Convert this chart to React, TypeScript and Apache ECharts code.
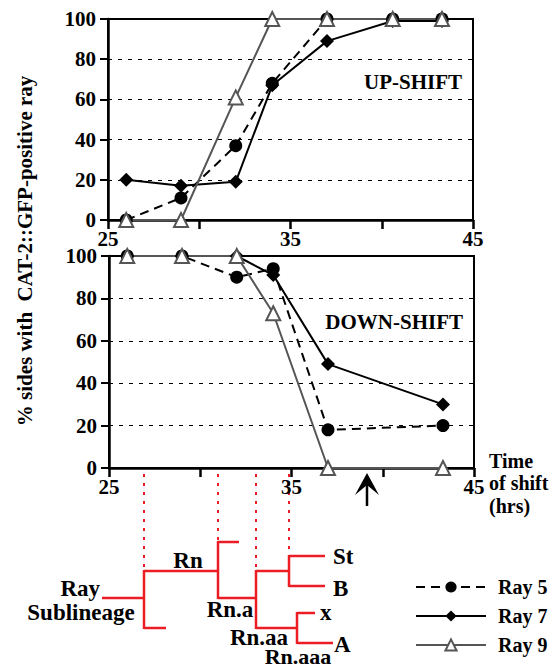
import React, { useEffect, useRef } from "react";
import * as echarts from "echarts";

// ---- data ----
const upTimes = [26, 29, 32, 34, 37, 40.6, 43.3];
const ray5Up = [0, 11, 37, 68, 100, 100, 100];
const ray7Up = [20, 17, 19, 67, 89, 99, 99];
const ray9Up = [0, 0, 61, 100, 100, 100, 100];

const downTimes = [26, 29, 32, 34, 37, 43.3];
const ray5Down = [100, 100, 90, 94, 18, 20];
const ray7Down = [100, 100, 100, 91, 49, 30];
const ray9Down = [100, 100, 100, 73, 0, 0];

const seriesNames = ["Ray 5", "Ray 7", "Ray 9"];
const xTickLabels = [25, 35, 45];
const yTicks = [0, 20, 40, 60, 80, 100];

const FONT = "Liberation Serif";
const RED = "#ec1c24";
const GRAY = "#555555";

const pairs = (xs: number[], ys: number[]) => xs.map((x, i) => [x, ys[i]]);

export default function App() {
  const ref = useRef<HTMLDivElement>(null);
  useEffect(() => {
    if (!ref.current) return;
    const chart = echarts.init(ref.current, null, { renderer: "svg" });

    const xAxisBase = (gridIndex: number) => ({
      type: "value",
      gridIndex,
      min: 25,
      max: 45,
      interval: 5,
      axisLine: { show: true, lineStyle: { color: "#000", width: 2.5 } },
      axisTick: { show: true, length: 9, lineStyle: { color: "#000", width: 2.5 } },
      splitLine: { show: false },
      axisLabel: {
        color: "#000",
        fontFamily: FONT,
        fontWeight: "bold",
        fontSize: 21,
        margin: 8,
        formatter: (v: number) => (xTickLabels.includes(v) ? String(v) : ""),
      },
    });
    const yAxisBase = (gridIndex: number) => ({
      type: "value",
      gridIndex,
      min: 0,
      max: 100,
      interval: 20,
      axisLine: { show: true, lineStyle: { color: "#000", width: 2.5 } },
      axisTick: { show: true, length: 8, lineStyle: { color: "#000", width: 2 } },
      splitLine: { show: true, lineStyle: { color: "#000", width: 1, type: [4, 6] } },
      axisLabel: {
        color: "#000",
        fontFamily: FONT,
        fontWeight: "bold",
        fontSize: 21,
        margin: 12,
        formatter: (v: number) => (yTicks.includes(v) ? String(v) : ""),
      },
    });

    const mk = (name: string, xi: number, data: number[][]) => {
      if (name === "Ray 5")
        return {
          name, type: "line", xAxisIndex: xi, yAxisIndex: xi, data,
          symbol: "circle", symbolSize: 13,
          lineStyle: { color: "#000", width: 2, type: [9, 6] },
          itemStyle: { color: "#000" },
        };
      if (name === "Ray 7")
        return {
          name, type: "line", xAxisIndex: xi, yAxisIndex: xi, data,
          symbol: "diamond", symbolSize: 14,
          lineStyle: { color: "#000", width: 2 },
          itemStyle: { color: "#000" },
        };
      return {
        name, type: "line", xAxisIndex: xi, yAxisIndex: xi, data,
        symbol: "triangle", symbolSize: 14,
        lineStyle: { color: GRAY, width: 2 },
        itemStyle: { color: "#fff", borderColor: GRAY, borderWidth: 2 },
      };
    };

    const txt = (text: string, x: number, y: number, opts: any = {}) => ({
      type: "text",
      x,
      y,
      style: {
        text,
        fill: "#000",
        font: `bold ${opts.size || 21}px "${FONT}", serif`,
        textAlign: opts.align || "left",
        textVerticalAlign: "middle",
      },
      rotation: opts.rotation || 0,
    });
    const seg = (x1: number, y1: number, x2: number, y2: number, dotted = false) => ({
      type: "line",
      shape: { x1, y1, x2, y2 },
      style: dotted
        ? { stroke: RED, lineWidth: 2, lineDash: [3, 6] }
        : { stroke: RED, lineWidth: 2.5 },
    });

    const graphics: any[] = [
      txt("% sides with  CAT-2::GFP-positive ray", 25, 251, { align: "center", rotation: Math.PI / 2 }),
      txt("UP-SHIFT", 462, 82, { align: "right" }),
      txt("DOWN-SHIFT", 463, 322, { align: "right" }),
      txt("Time", 489, 461, { size: 20 }),
      txt("of shift", 489, 483, { size: 20 }),
      txt("(hrs)", 489, 506, { size: 20 }),
      // dotted connectors
      seg(144, 474, 144, 571, true),
      seg(218, 474, 218, 542, true),
      seg(256, 474, 256, 571, true),
      seg(289, 474, 289, 556, true),
      // tree
      seg(102, 598, 144, 598),
      seg(144, 570, 144, 629),
      seg(144, 571, 218, 571),
      seg(144, 628, 166, 628),
      seg(218, 541, 218, 599),
      seg(218, 542, 239, 542),
      seg(218, 598, 256, 598),
      seg(256, 570, 256, 629),
      seg(256, 571, 289, 571),
      seg(256, 628, 297, 628),
      seg(289, 555, 289, 587),
      seg(289, 556, 325, 556),
      seg(289, 586, 325, 586),
      seg(297, 612, 297, 644),
      seg(297, 613, 315, 613),
      seg(297, 643, 333, 643),
      txt("Ray", 100, 588, { size: 23, align: "right" }),
      txt("Sublineage", 81, 612, { size: 23, align: "center" }),
      txt("Rn", 188, 560, { size: 23, align: "center" }),
      txt("Rn.a", 230, 609, { size: 23, align: "center" }),
      txt("Rn.aa", 259, 637, { size: 23, align: "center" }),
      txt("Rn.aaa", 298, 656, { size: 22, align: "center" }),
      txt("St", 333, 556, { size: 23 }),
      txt("B", 333, 588, { size: 23 }),
      txt("x", 320, 612, { size: 23 }),
      txt("A", 334, 644, { size: 23 }),
      // arrow
      {
        type: "line",
        shape: { x1: 367, y1: 482, x2: 367, y2: 506 },
        style: { stroke: "#000", lineWidth: 2.5 },
      },
      {
        type: "polygon",
        shape: { points: [[367, 473], [355, 495], [367, 485], [379, 495]] },
        style: { fill: "#000" },
      },
    ];

    chart.setOption({
      animation: false,
      backgroundColor: "#fff",
      grid: [
        { left: 108, top: 19, width: 365, height: 201, show: true, borderColor: "#000", borderWidth: 2, backgroundColor: "transparent" },
        { left: 109, top: 256, width: 365, height: 212, show: true, borderColor: "#000", borderWidth: 2, backgroundColor: "transparent" },
      ],
      xAxis: [xAxisBase(0), xAxisBase(1)],
      yAxis: [yAxisBase(0), yAxisBase(1)],
      legend: {
        data: seriesNames,
        orient: "vertical",
        left: 410,
        top: 572,
        itemWidth: 70,
        itemHeight: 14,
        itemGap: 9,
        textStyle: { color: "#000", fontFamily: FONT, fontWeight: "bold", fontSize: 20, padding: [0, 0, 0, 7] },
      },
      series: [
        mk("Ray 5", 0, pairs(upTimes, ray5Up)),
        mk("Ray 7", 0, pairs(upTimes, ray7Up)),
        mk("Ray 9", 0, pairs(upTimes, ray9Up)),
        mk("Ray 5", 1, pairs(downTimes, ray5Down)),
        mk("Ray 7", 1, pairs(downTimes, ray7Down)),
        mk("Ray 9", 1, pairs(downTimes, ray9Down)),
      ],
      graphic: graphics,
    });

    return () => chart.dispose();
  }, []);

  return (
    <div
      ref={ref}
      style={{ position: "fixed", left: 0, top: 0, width: 557, height: 667, background: "#fff" }}
    />
  );
}
